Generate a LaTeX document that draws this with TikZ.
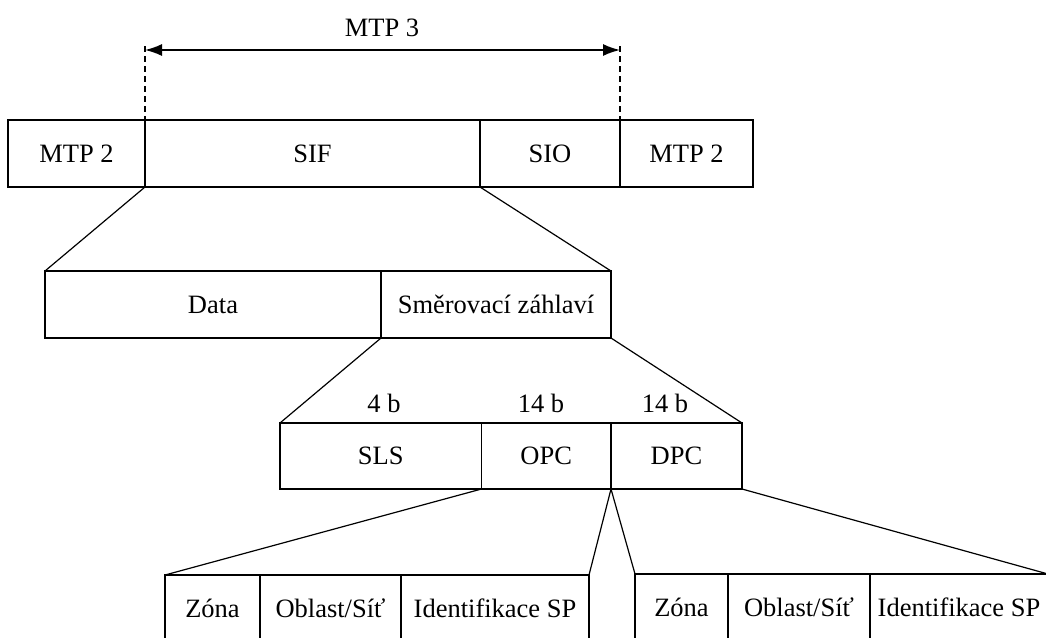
\documentclass[tikz,border=0pt]{standalone}
\usepackage{fontspec}
\setmainfont{Liberation Serif}
\usetikzlibrary{arrows.meta}
\begin{document}
\begin{tikzpicture}[x=1pt,y=-1pt,
  line width=1.2pt,
  cell/.style={draw, line width=1.2pt, inner sep=0pt, outer sep=0pt, anchor=center,
    font=\fontsize{26.5}{30}\selectfont},
  lbl/.style={inner sep=0pt, font=\fontsize{26.5}{30}\selectfont},
  link/.style={line width=1.2pt},
  dash line/.style={dashed, dash pattern=on 6pt off 4pt, line width=1.1pt}]
\clip (0,0) rectangle (1046,637);
\fill[white] (0,0) rectangle (1046,637);
% top row
\node[cell, minimum width=137, minimum height=67] (mtpa) at (76.5,153.5) {MTP 2};
\node[cell, minimum width=335, minimum height=67] (sif) at (312.5,153.5) {SIF};
\node[cell, minimum width=140, minimum height=67] (sio) at (550,153.5) {SIO};
\node[cell, minimum width=133, minimum height=67] (mtpb) at (686.5,153.5) {MTP 2};
% MTP 3
\coordinate (al) at (145,50);
\coordinate (ar) at (620,50);
\coordinate (dl) at (145,46);
\coordinate (dr) at (620,46);
\node[lbl] (mtp3) at (382,28) {MTP 3};
\draw[dash line] (dl) -- (sif.north west);
\draw[dash line] (dr) -- (sio.north east);
\draw[line width=1.6pt, {Latex[length=17pt,width=12pt]}-{Latex[length=17pt,width=12pt]}] (al) -- (ar);
% second row
\node[cell, minimum width=336, minimum height=67] (data) at (213,304.5) {Data};
\node[cell, minimum width=230, minimum height=67] (smer) at (496,304.5) {Směrovací záhlaví};
\draw[link] (sif.south west) -- (data.north west);
\draw[link] (sio.south west) -- (smer.north east);
% third row
\node[cell, minimum width=201.5, minimum height=66] (sls) at (380.75,456) {SLS};
\node[cell, minimum width=129.5, minimum height=66] (opc) at (546.25,456) {OPC};
\node[cell, minimum width=131, minimum height=66] (dpc) at (676.5,456) {DPC};
\node[lbl] (b1) at (384,403) {4 b};
\node[lbl] (b2) at (541,403) {14 b};
\node[lbl] (b3) at (665,403) {14 b};
\draw[link] (data.south east) -- (sls.north west);
\draw[link] (smer.south east) -- (dpc.north east);
% bottom row left
\node[cell, minimum width=95, minimum height=67] (za) at (212.5,608.5) {Zóna};
\node[cell, minimum width=141, minimum height=67] (oa) at (330.5,608.5) {Oblast/Síť};
\node[cell, minimum width=188, minimum height=67] (ia) at (495,608.5) {Identifikace SP};
% bottom row right
\node[cell, minimum width=93, minimum height=67] (zb) at (681.5,607.5) {Zóna};
\node[cell, minimum width=142, minimum height=67] (ob) at (799,607.5) {Oblast/Síť};
\node[cell, minimum width=178, minimum height=67] (ib) at (959,607.5) {Identifikace SP};
\draw[link] (opc.south west) -- (za.north west);
\draw[link] (opc.south east) -- (ia.north east);
\draw[link] (opc.south east) -- (zb.north west);
\draw[link] (dpc.south east) -- (ib.north east);
\end{tikzpicture}
\end{document}
